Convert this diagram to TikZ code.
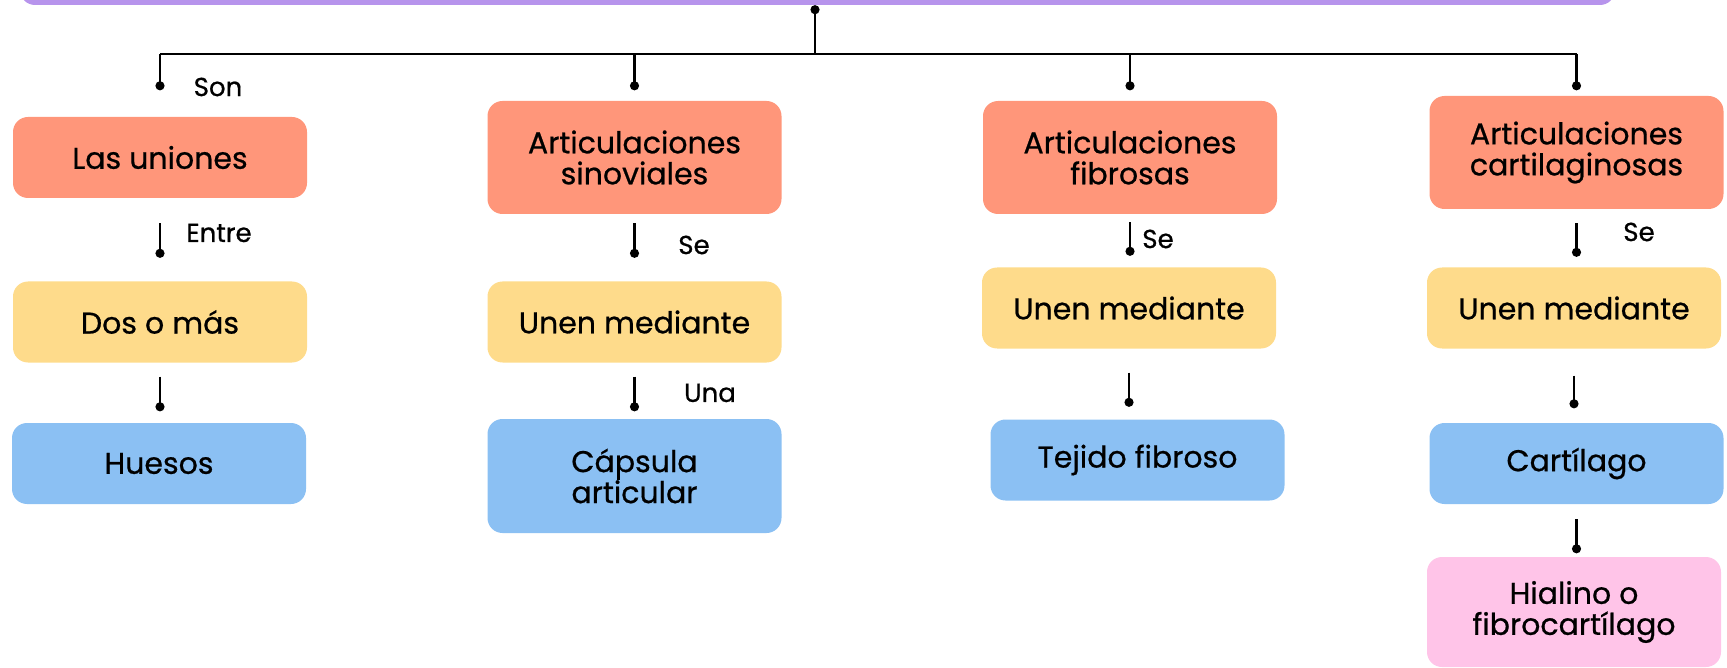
\documentclass[tikz,border=0pt]{standalone}
\usepackage{fontspec}
\setmainfont{Poppins}[UprightFeatures={FakeBold=0.7}]
\usetikzlibrary{arrows.meta}

\definecolor{lila}{HTML}{B794EC}
\definecolor{salmon}{HTML}{FF967A}
\definecolor{amarillo}{HTML}{FEDB8B}
\definecolor{celeste}{HTML}{8BC0F3}
\definecolor{rosa}{HTML}{FFC4E8}

\begin{document}
\begin{tikzpicture}[x=1pt,y=-1pt,
    caja/.style={rounded corners=15pt, minimum width=294pt, minimum height=81pt,
      align=center, inner sep=0pt, font=\fontsize{30}{31}\selectfont},
    linea/.style={line width=2.2pt},
    enlace/.style={linea, -{Circle[length=9pt]}},
    etiqueta/.style={inner sep=0pt, font=\fontsize{26}{27}\selectfont}]
    \useasboundingbox (0,0) rectangle (1727,668);

    % Title bar
    \node[caja, fill=lila, minimum width=1595pt, minimum height=70pt] (titulo) at (817.5,-30) {};
    \coordinate (bus) at (815,54);
    \draw[linea, {Circle[length=9pt]}-] (titulo.south -| bus) -- (bus);

    % Boxes
    \node[caja, fill=salmon] (uniones) at (160,157.5) {Las uniones};
    \node[caja, fill=amarillo] (dos) at (160,322) {Dos o más};
    \node[caja, fill=celeste] (huesos) at (159,463.5) {Huesos};

    \node[caja, fill=salmon, minimum height=113pt] (sinoviales) at (634.5,157.5) {Articulaciones\\sinoviales};
    \node[caja, fill=amarillo] (unenA) at (634.5,322) {Unen mediante};
    \node[caja, fill=celeste, minimum height=114pt] (capsula) at (634.5,476) {Cápsula\\articular};

    \node[caja, fill=salmon, minimum height=113pt] (fibrosas) at (1130,157.5) {Articulaciones\\fibrosas};
    \node[caja, fill=amarillo] (unenB) at (1129,308) {Unen mediante};
    \node[caja, fill=celeste] (tejido) at (1137.5,460) {Tejido fibroso};

    \node[caja, fill=salmon, minimum height=113pt] (cartilag) at (1576.5,152.5) {Articulaciones\\cartilaginosas};
    \node[caja, fill=amarillo] (unenC) at (1574,308) {Unen mediante};
    \node[caja, fill=celeste] (cartilago) at (1576.5,463.5) {Cartílago};
    \node[caja, fill=rosa, minimum height=110pt] (hialino) at (1574,612) {Hialino o\\fibrocartílago};

    % Branches
    \draw[linea] (uniones.north |- bus) -- (cartilag.north |- bus);
    \draw[enlace, shorten >=26.5pt] (uniones.north |- bus) -- (uniones.north);
    \draw[enlace, shorten >=10.5pt] (sinoviales.north |- bus) -- (sinoviales.north);
    \draw[enlace, shorten >=10.5pt] (fibrosas.north |- bus) -- (fibrosas.north);
    \draw[enlace, shorten >=5.5pt] (cartilag.north |- bus) -- (cartilag.north);

    % Links
    \draw[enlace, shorten <=25pt, shorten >=23.5pt] (uniones.south) -- (uniones.south |- dos.north);
    \draw[enlace, shorten <=14pt, shorten >=11.5pt] (dos.south) -- (dos.south |- huesos.north);
    \draw[enlace, shorten <=9pt, shorten >=23.5pt] (sinoviales.south) -- (sinoviales.south |- unenA.north);
    \draw[enlace, shorten <=14pt, shorten >=7.5pt] (unenA.south) -- (unenA.south |- capsula.north);
    \draw[enlace, shorten <=8pt, shorten >=11.5pt] (fibrosas.south) -- (fibrosas.south |- unenB.north);
    \draw[enlace, shorten <=24pt, shorten >=12.5pt] (unenB.south) -- (unenB.south |- tejido.north);
    \draw[enlace, shorten <=14pt, shorten >=10.5pt] (cartilag.south) -- (cartilag.south |- unenC.north);
    \draw[enlace, shorten <=27pt, shorten >=14.5pt] (unenC.south) -- (unenC.south |- cartilago.north);
    \draw[enlace, shorten <=15pt, shorten >=3.5pt] (cartilago.south) -- (cartilago.south |- hialino.north);

    % Labels
    \node[etiqueta] (son) at (218,87) {Son};
    \node[etiqueta] (entre) at (219,233) {Entre};
    \node[etiqueta] (seA) at (694,245) {Se};
    \node[etiqueta] (una) at (710,393) {Una};
    \node[etiqueta] (seB) at (1158,239) {Se};
    \node[etiqueta] (seC) at (1639,232) {Se};
\end{tikzpicture}
\end{document}
